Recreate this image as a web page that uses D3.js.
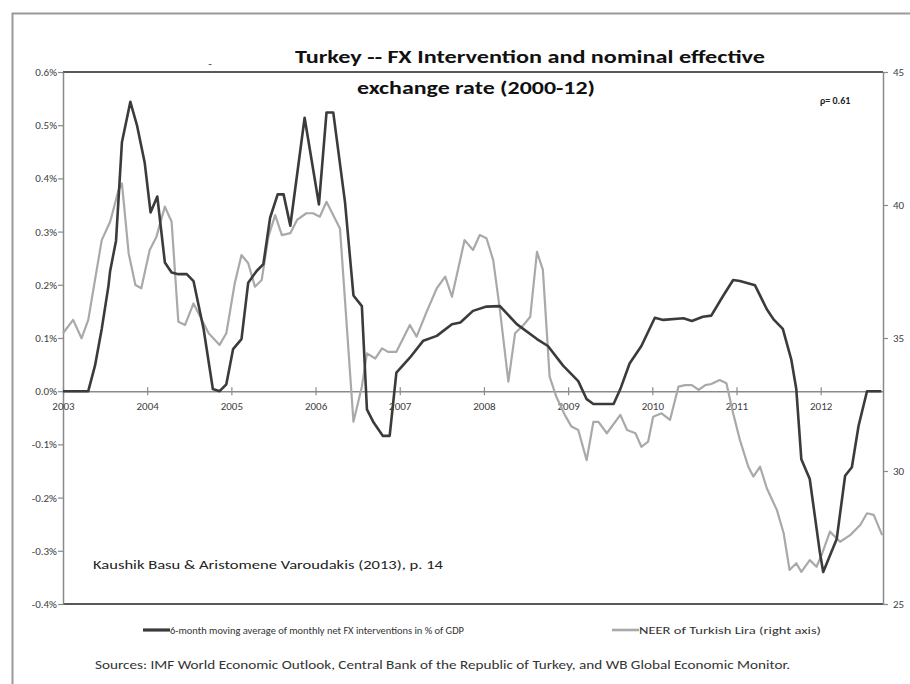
<!DOCTYPE html>
<html>
<head>
<meta charset="utf-8">
<script src="https://cdn.jsdelivr.net/npm/d3@7"></script>
<style>
  body { margin: 0; background: #fff; }
  svg { display: block; }
  text { font-family: Carlito, "Liberation Sans Narrow", "Open Sans", sans-serif; }
</style>
</head>
<body>
<div id="chart"></div>
<script>
// 6-month moving average of net FX interventions, % of GDP  [decimal year, value]
const fxSeries = [
  [2003.00, 0.000], [2003.30, 0.000], [2003.38, 0.048], [2003.46, 0.117], [2003.54, 0.198],
  [2003.56, 0.226], [2003.63, 0.283], [2003.70, 0.468], [2003.80, 0.544], [2003.88, 0.499],
  [2003.97, 0.430], [2004.04, 0.336], [2004.12, 0.366], [2004.21, 0.242], [2004.29, 0.223],
  [2004.37, 0.220], [2004.47, 0.220], [2004.55, 0.207], [2004.67, 0.117], [2004.78, 0.004],
  [2004.86, 0.000], [2004.94, 0.013], [2005.02, 0.079], [2005.12, 0.098], [2005.20, 0.204],
  [2005.30, 0.226], [2005.38, 0.239], [2005.46, 0.326], [2005.55, 0.370], [2005.62, 0.370],
  [2005.70, 0.311], [2005.87, 0.514], [2006.04, 0.351], [2006.13, 0.524], [2006.21, 0.524],
  [2006.35, 0.355], [2006.45, 0.180], [2006.55, 0.160], [2006.61, -0.034], [2006.69, -0.059],
  [2006.80, -0.084], [2006.88, -0.084], [2006.96, 0.035], [2007.12, 0.063], [2007.28, 0.095],
  [2007.44, 0.104], [2007.62, 0.126], [2007.72, 0.129], [2007.87, 0.151], [2008.03, 0.159],
  [2008.19, 0.160], [2008.39, 0.126], [2008.63, 0.098], [2008.76, 0.085], [2008.94, 0.048],
  [2009.12, 0.019], [2009.22, -0.015], [2009.30, -0.024], [2009.54, -0.024], [2009.62, 0.004],
  [2009.73, 0.052], [2009.87, 0.085], [2010.03, 0.138], [2010.13, 0.134], [2010.37, 0.137],
  [2010.47, 0.132], [2010.60, 0.140], [2010.70, 0.142], [2010.84, 0.179], [2010.96, 0.209],
  [2011.04, 0.207], [2011.22, 0.199], [2011.36, 0.154], [2011.44, 0.135], [2011.55, 0.117],
  [2011.65, 0.060], [2011.71, 0.004], [2011.77, -0.128], [2011.87, -0.165], [2011.99, -0.303],
  [2012.03, -0.340], [2012.19, -0.278], [2012.29, -0.159], [2012.37, -0.143], [2012.45, -0.065],
  [2012.55, 0.000], [2012.72, 0.000]
];

// NEER of Turkish Lira (right axis)  [decimal year, value]
const neerSeries = [
  [2003.00, 35.18], [2003.12, 35.68], [2003.22, 34.99], [2003.30, 35.68], [2003.46, 38.68],
  [2003.56, 39.37], [2003.66, 40.56], [2003.70, 40.81], [2003.78, 38.18], [2003.86, 36.99],
  [2003.93, 36.87], [2004.03, 38.31], [2004.11, 38.81], [2004.21, 39.94], [2004.29, 39.37],
  [2004.37, 35.61], [2004.45, 35.49], [2004.55, 36.30], [2004.63, 35.80], [2004.73, 35.18],
  [2004.86, 34.74], [2004.94, 35.18], [2005.04, 37.06], [2005.12, 38.12], [2005.20, 37.81],
  [2005.28, 36.93], [2005.36, 37.18], [2005.44, 38.81], [2005.52, 39.62], [2005.60, 38.87],
  [2005.70, 38.94], [2005.78, 39.44], [2005.89, 39.69], [2005.97, 39.69], [2006.05, 39.56],
  [2006.13, 40.12], [2006.29, 39.12], [2006.45, 31.85], [2006.55, 33.17], [2006.61, 34.42],
  [2006.71, 34.23], [2006.79, 34.61], [2006.86, 34.48], [2006.96, 34.48], [2007.12, 35.49],
  [2007.20, 35.05], [2007.32, 35.99], [2007.44, 36.87], [2007.54, 37.31], [2007.62, 36.55],
  [2007.77, 38.68], [2007.87, 38.31], [2007.95, 38.87], [2008.03, 38.75], [2008.11, 37.93],
  [2008.19, 36.05], [2008.29, 33.36], [2008.37, 35.18], [2008.47, 35.49], [2008.55, 35.80],
  [2008.63, 38.24], [2008.70, 37.56], [2008.78, 33.55], [2008.86, 32.79], [2008.96, 32.11],
  [2009.04, 31.67], [2009.12, 31.54], [2009.22, 30.41], [2009.30, 31.85], [2009.36, 31.85],
  [2009.46, 31.42], [2009.62, 32.11], [2009.70, 31.54], [2009.80, 31.42], [2009.87, 30.91],
  [2009.95, 31.10], [2010.01, 32.04], [2010.11, 32.17], [2010.21, 31.92], [2010.31, 33.17],
  [2010.39, 33.23], [2010.47, 33.23], [2010.55, 33.05], [2010.63, 33.23], [2010.70, 33.27],
  [2010.80, 33.42], [2010.88, 33.30], [2010.96, 32.17], [2011.04, 31.17], [2011.14, 30.16],
  [2011.20, 29.79], [2011.28, 30.16], [2011.36, 29.35], [2011.48, 28.53], [2011.56, 27.66],
  [2011.63, 26.28], [2011.71, 26.53], [2011.77, 26.21], [2011.87, 26.65], [2011.95, 26.40],
  [2012.01, 26.84], [2012.11, 27.72], [2012.23, 27.34], [2012.35, 27.59], [2012.47, 27.97],
  [2012.55, 28.41], [2012.63, 28.35], [2012.73, 27.59]
];

const years = [2003, 2004, 2005, 2006, 2007, 2008, 2009, 2010, 2011, 2012];
const leftTicks = [-0.4, -0.3, -0.2, -0.1, 0.0, 0.1, 0.2, 0.3, 0.4, 0.5, 0.6];
const rightTicks = [25, 30, 35, 40, 45];
const titleLines = ["Turkey -- FX Intervention and nominal effective", "exchange rate (2000-12)"];
const legendLabels = ["6-month moving average of monthly net FX interventions in % of GDP", "NEER of Turkish Lira (right axis)"];

const width = 910, height = 684;
const plot = { left: 63, right: 883, top: 72, bottom: 604 };

const svg = d3.select("#chart").append("svg")
    .attr("width", width)
    .attr("height", height);

// outer frame (only top and left edges show in the picture)
svg.append("path")
    .attr("d", `M12.5,${height}V13.5H${width}`)
    .attr("fill", "none")
    .attr("stroke", "#9a9a9a")
    .attr("stroke-width", 2);

const x = d3.scaleLinear().domain([2003, 2012.74]).range([plot.left, plot.right]);
const yL = d3.scaleLinear().domain([-0.4, 0.6]).range([plot.bottom, plot.top]);
const yR = d3.scaleLinear().domain([25, 45]).range([plot.bottom, plot.top]);

// dark top/bottom borders of the plot area
[plot.top, plot.bottom].forEach(y => {
    svg.append("line")
        .attr("x1", plot.left).attr("x2", plot.right)
        .attr("y1", y).attr("y2", y)
        .attr("stroke", "#222")
        .attr("stroke-width", 1.6);
});

// left axis
const leftAxis = svg.append("g")
    .attr("transform", `translate(${plot.left},0)`)
    .call(d3.axisLeft(yL).tickValues(leftTicks).tickSize(5).tickSizeOuter(0)
        .tickFormat(d => d.toFixed(1) + "%"));

// right axis
const rightAxis = svg.append("g")
    .attr("transform", `translate(${plot.right},0)`)
    .call(d3.axisRight(yR).tickValues(rightTicks).tickSize(5).tickSizeOuter(0));

// x axis along zero
const xAxis = svg.append("g")
    .attr("transform", `translate(0,${yL(0)})`)
    .call(d3.axisBottom(x).tickValues(years).tickSize(4).tickSizeOuter(0).tickFormat(d3.format("d")));
xAxis.selectAll(".tick line").attr("y1", -4).attr("y2", 4);
xAxis.selectAll(".tick text").attr("dy", "1.05em");

[leftAxis, rightAxis, xAxis].forEach(g => {
    g.attr("font-size", 11).attr("font-family", null);
    g.select(".domain").attr("stroke", "#8a8a8a").attr("stroke-width", 1.5);
    g.selectAll(".tick line").attr("stroke", "#8a8a8a").attr("stroke-width", 1.2);
    g.selectAll(".tick text").attr("fill", "#404040");
});
leftAxis.selectAll(".tick text").attr("x", -6);
rightAxis.selectAll(".tick text").attr("x", 10);

// lines
const neerLine = d3.line().x(d => x(d[0])).y(d => yR(d[1]));
const fxLine = d3.line().x(d => x(d[0])).y(d => yL(d[1]));

svg.append("path")
    .datum(neerSeries)
    .attr("d", neerLine)
    .attr("fill", "none")
    .attr("stroke", "#a9a9a9")
    .attr("stroke-width", 2.2)
    .attr("stroke-linejoin", "round");

svg.append("path")
    .datum(fxSeries)
    .attr("d", fxLine)
    .attr("fill", "none")
    .attr("stroke", "#3b3b3b")
    .attr("stroke-width", 2.6)
    .attr("stroke-linejoin", "round");

// title
svg.append("text")
    .attr("x", 530).attr("y", 63)
    .attr("text-anchor", "middle")
    .attr("textLength", 470).attr("lengthAdjust", "spacingAndGlyphs")
    .style("font-size", "19px").style("font-weight", "bold").attr("fill", "#111")
    .text(titleLines[0]);
svg.append("text")
    .attr("x", 476).attr("y", 94)
    .attr("text-anchor", "middle")
    .attr("textLength", 238).attr("lengthAdjust", "spacingAndGlyphs")
    .style("font-size", "19px").style("font-weight", "bold").attr("fill", "#111")
    .text(titleLines[1]);

// stray dash under the title
svg.append("text")
    .attr("x", 210).attr("y", 68)
    .attr("text-anchor", "middle")
    .style("font-size", "12px").attr("fill", "#555")
    .text("-");

svg.append("text")
    .attr("x", 820).attr("y", 104)
    .style("font-size", "10px").style("font-weight", "bold").attr("fill", "#222")
    .text("ρ= 0.61");

svg.append("text")
    .attr("x", 93).attr("y", 569)
    .attr("textLength", 350).attr("lengthAdjust", "spacingAndGlyphs")
    .style("font-size", "11.5px").attr("fill", "#222")
    .text("Kaushik Basu & Aristomene Varoudakis (2013),  p. 14");

// legend
const legend = [
    { x: 143, color: "#3b3b3b", w: 3.2, text: legendLabels[0], len: 294 },
    { x: 612, color: "#a9a9a9", w: 2.6, text: legendLabels[1], len: 182 }
];
legend.forEach(l => {
    svg.append("line")
        .attr("x1", l.x).attr("x2", l.x + 27)
        .attr("y1", 630).attr("y2", 630)
        .attr("stroke", l.color).attr("stroke-width", l.w);
    svg.append("text")
        .attr("x", l.x + 27).attr("y", 634)
        .attr("textLength", l.len).attr("lengthAdjust", "spacingAndGlyphs")
        .style("font-size", "9.5px").attr("fill", "#333")
        .text(l.text);
});

svg.append("text")
    .attr("x", 95).attr("y", 669)
    .attr("textLength", 695).attr("lengthAdjust", "spacingAndGlyphs")
    .style("font-size", "12px").attr("fill", "#333")
    .text("Sources: IMF World Economic Outlook, Central Bank of the Republic of Turkey, and WB Global Economic Monitor.");
</script>
</body>
</html>
